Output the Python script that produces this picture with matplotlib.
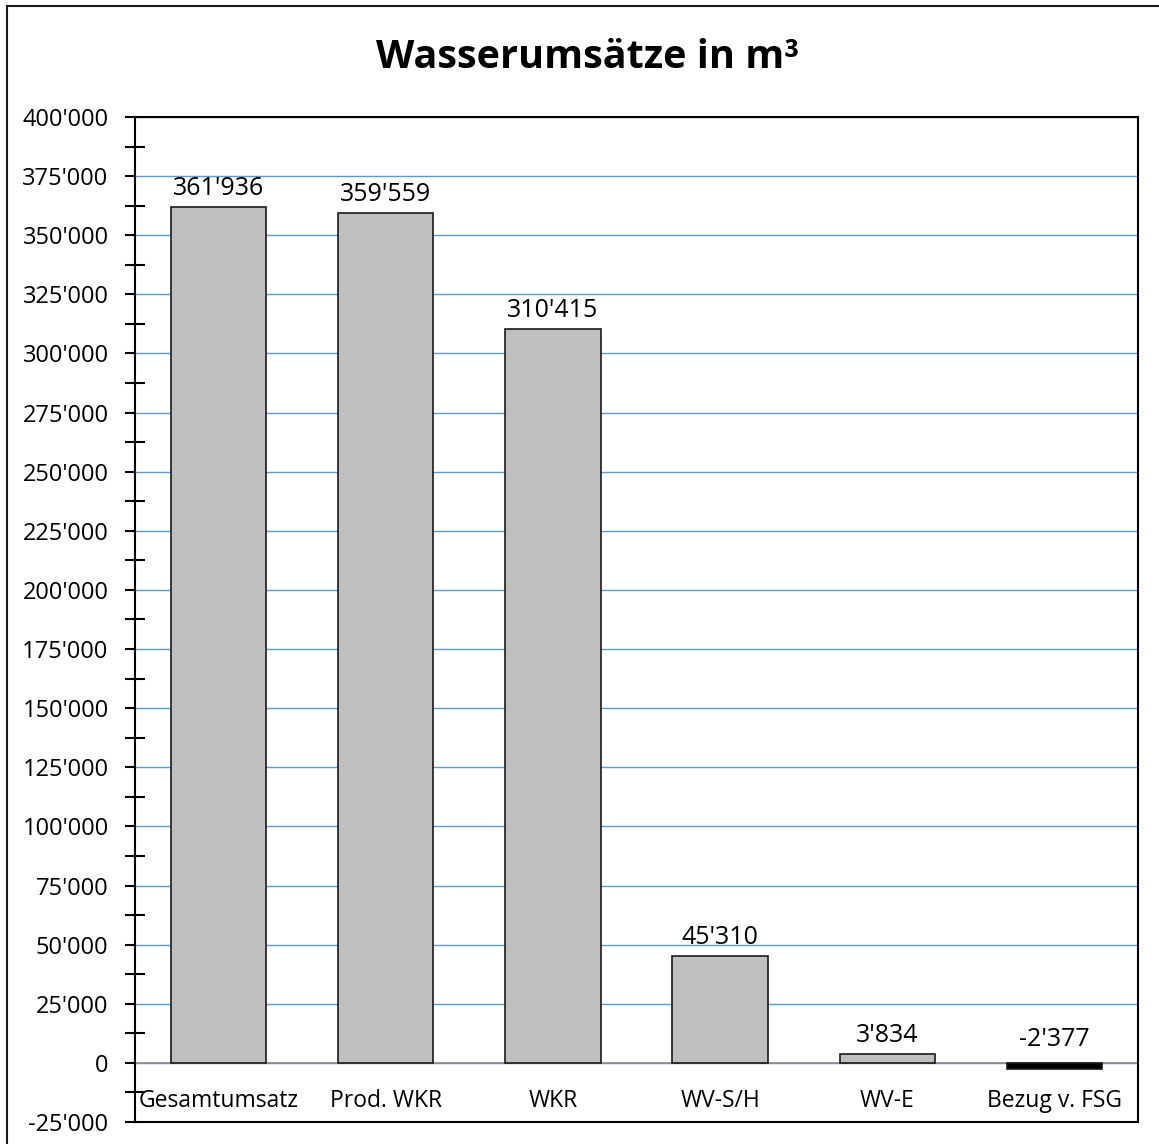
import matplotlib
matplotlib.use("Agg")
import matplotlib.pyplot as plt
from matplotlib.ticker import FuncFormatter, MultipleLocator
from matplotlib.patches import Rectangle

categories = ["Gesamtumsatz", "Prod. WKR", "WKR", "WV-S/H", "WV-E", "Bezug v. FSG"]
values = [361936, 359559, 310415, 45310, 3834, -2377]
bar_colors = ["#bfbfbf", "#bfbfbf", "#bfbfbf", "#bfbfbf", "#bfbfbf", "#000000"]
title = "Wasserumsätze in m³"

plt.rcParams['font.family'] = ['Open Sans', 'DejaVu Sans']

W, H = 1159, 1144
fig = plt.figure(figsize=(W / 100, H / 100), dpi=100)
# plot area in pixels
left, top, right, bottom = 135, 117, 1138, 1122
ax = fig.add_axes([left / W, 1 - bottom / H, (right - left) / W, (bottom - top) / H])

# figure border (clipped at right/bottom like the reference)
fig.patches.append(Rectangle((7 / W, -0.01), 1.2, 1 - 6 / H + 0.01, transform=fig.transFigure,
                             fill=False, edgecolor="#1a1a1a", linewidth=1.5))

def fmt(v, pos=None):
    s = f"{abs(int(round(v))):,}".replace(",", "'")
    return ("-" if v < 0 else "") + s

x = list(range(len(categories)))
ax.bar(x, values, width=0.57, color=bar_colors, edgecolor="#1a1a1a", linewidth=1.2, zorder=3)

ax.set_xlim(-0.5, len(categories) - 0.5)
ax.set_ylim(-25000, 400000)
ax.yaxis.set_major_locator(MultipleLocator(25000))
ax.yaxis.set_minor_locator(MultipleLocator(12500))
ax.yaxis.set_major_formatter(FuncFormatter(fmt))
ax.grid(axis="y", which="major", color="#5b9bd5", linewidth=1.0, zorder=1)
ax.axhline(0, color="#8c8c8c", linewidth=1.2, zorder=2)
ax.tick_params(axis="y", which="major", direction="out", length=7, width=1.5, labelsize=17, pad=12)
ax.tick_params(axis="y", which="minor", direction="inout", length=14, width=1.5)
ax.set_xticks([])
for s in ax.spines.values():
    s.set_color("#000000")
    s.set_linewidth(1.5)

for xi, v, c in zip(x, values, categories):
    off = 4 if v >= 0 else 8
    ax.annotate(fmt(v), (xi, max(v, 0)), xytext=(0, off), textcoords="offset points",
                ha="center", va="bottom", fontsize=18)
    ax.text(xi, -16000, c, ha="center", va="center", fontsize=16.5)

fig.text(588 / W, 1 - 57 / H, title, ha="center", va="center", fontsize=28.5, fontweight="bold")

fig.savefig("out.png", dpi=100)
